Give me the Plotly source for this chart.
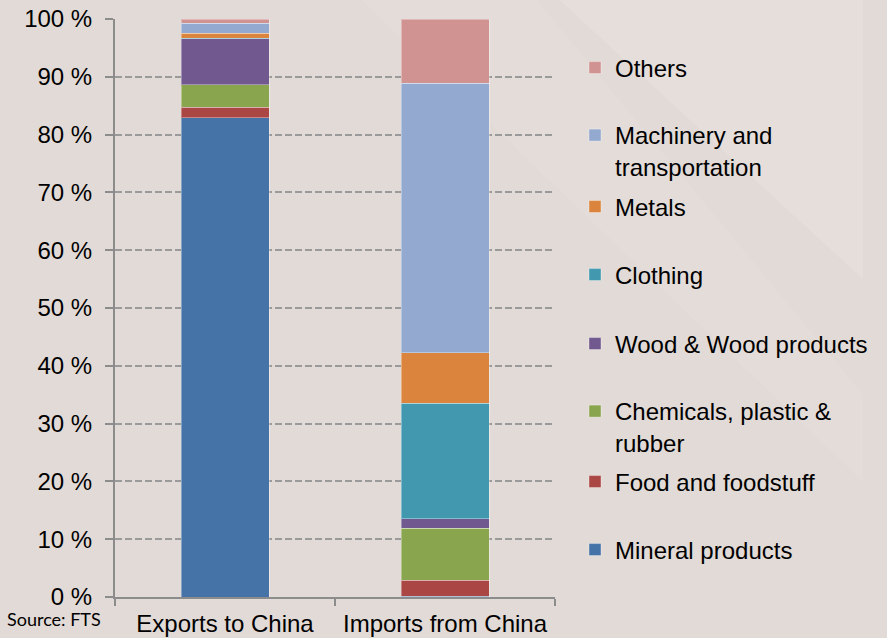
import plotly.graph_objects as go

categories = ["Exports to China", "Imports from China"]
series_names = ["Mineral products", "Food and foodstuff", "Chemicals, plastic &<br>rubber",
                "Wood & Wood products", "Clothing", "Metals",
                "Machinery and<br>transportation", "Others"]
exports_vals = [82.9, 1.8, 3.9, 8.0, 0.1, 0.8, 1.8, 0.7]
imports_vals = [0.1, 2.8, 9.0, 1.6, 20.0, 8.8, 46.6, 11.1]
colors = ["#4573a7", "#aa4643", "#89a54e", "#71588f", "#4198af", "#db843d", "#93a9cf", "#d19392"]
y_ticks = list(range(0, 101, 10))
y_ticklabels = [f"{v} %" for v in y_ticks]

# legend marker (first text line) pixel rows, plot area 19..597
legend_rows = [550, 482, 413, 344, 275, 207, 137, 68]
two_line = [False, False, True, False, False, False, True, False]

W, H = 887, 638
ml, mr, mt, mb = 115, 332, 19, 41
plot_h = H - mt - mb
plot_w = W - ml - mr

FONT = "Liberation Sans, Arial, sans-serif"
FS = 24

fig = go.Figure()
layout_legends = {}
for i, name in enumerate(series_names):
    lid = "legend" if i == 0 else f"legend{i+1}"
    fig.add_trace(go.Bar(
        x=categories, y=[exports_vals[i], imports_vals[i]], name=name,
        marker=dict(color=colors[i], line=dict(color="rgba(255,255,255,0.35)", width=1)),
        width=0.4, legend=lid, showlegend=True,
    ))
    row = legend_rows[i] + (14 if two_line[i] else 0)
    layout_legends[lid] = dict(
        x=(575 - ml) / plot_w, xanchor="left",
        y=(H - mb - row) / plot_h, yanchor="middle",
        valign="top", bgcolor="rgba(0,0,0,0)",
        font=dict(family=FONT, size=FS, color="#000000"),
        borderwidth=0,
    )

# subtle light streaks in the background
shapes = [
    dict(type="path", xref="paper", yref="paper", layer="below",
         path="M 1.0 1.04 L 1.7 1.04 L 1.7 0.55 Z",
         fillcolor="rgba(255,255,255,0.12)", line=dict(width=0)),
    dict(type="path", xref="paper", yref="paper", layer="below",
         path="M 0.55 1.04 L 0.95 1.04 L 1.7 0.35 L 1.7 0.2 Z",
         fillcolor="rgba(255,255,255,0.08)", line=dict(width=0)),
]

fig.update_layout(
    width=W, height=H,
    margin=dict(l=ml, r=mr, t=mt, b=mb, autoexpand=False),
    barmode="stack",
    paper_bgcolor="#e2dad6",
    plot_bgcolor="rgba(0,0,0,0)",
    font=dict(family=FONT, size=FS, color="#000000"),
    shapes=shapes,
    xaxis=dict(
        range=[-0.5, 1.5], showgrid=False, showline=True, linecolor="#8c8c8c", linewidth=2,
        ticks="outside", tickson="boundaries", ticklen=7, tickcolor="#8c8c8c", tickwidth=2,
        ticklabelstandoff=4,
        tickfont=dict(family=FONT, size=FS, color="#000000"), fixedrange=True,
    ),
    yaxis=dict(
        range=[0, 100], tickvals=y_ticks, ticktext=y_ticklabels,
        showgrid=True, gridcolor="#9a9a9a", gridwidth=2, griddash="7px,3px",
        showline=True, linecolor="#8c8c8c", linewidth=2,
        ticks="outside", ticklen=8, tickcolor="#8c8c8c", tickwidth=2,
        ticklabelstandoff=8,
        tickfont=dict(family=FONT, size=FS, color="#000000"), zeroline=False,
    ),
    annotations=[dict(
        text="Source: FTS", xref="paper", yref="paper",
        x=(5 - ml) / plot_w, y=-(619 - (H - mb)) / plot_h,
        xanchor="left", yanchor="middle", showarrow=False,
        font=dict(family="Lato, Noto Sans, sans-serif", size=18, color="#000000"),
    )],
    **layout_legends,
)

fig.write_html("out.html", config={"displayModeBar": False},
               post_script="document.body.style.margin='0px';document.body.style.padding='0px';")
